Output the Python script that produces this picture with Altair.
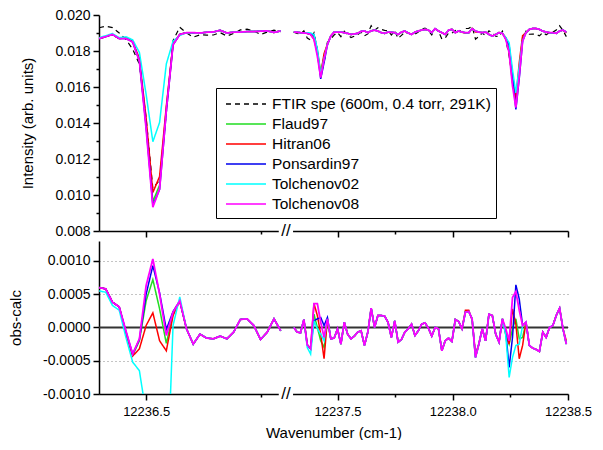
import altair as alt
import pandas as pd

FONT = "Liberation Sans"

# ---------------- data ----------------
WN_LEFT = [12236.3978, 12236.4124, 12236.4270, 12236.4416, 12236.4562, 12236.4708, 12236.4854,
           12236.5000, 12236.5146, 12236.5292, 12236.5438, 12236.5584, 12236.5730, 12236.5876,
           12236.6022, 12236.6168, 12236.6314, 12236.6460, 12236.6606, 12236.6752, 12236.6898,
           12236.7044, 12236.7190, 12236.7336, 12236.7482, 12236.7628, 12236.7774, 12236.7920]

WN_RIGHT = [12237.3102, 12237.3248, 12237.3394, 12237.3540, 12237.3686, 12237.3832, 12237.3978,
            12237.4124, 12237.4270, 12237.4416, 12237.4562, 12237.4708, 12237.4854, 12237.5000,
            12237.5146, 12237.5292, 12237.5438, 12237.5584, 12237.5730, 12237.5876, 12237.6022,
            12237.6168, 12237.6314, 12237.6460, 12237.6606, 12237.6752, 12237.6898, 12237.7044,
            12237.7190, 12237.7336, 12237.7482, 12237.7628, 12237.7774, 12237.7920, 12237.8066,
            12237.8212, 12237.8358, 12237.8504, 12237.8650, 12237.8796, 12237.8942, 12237.9088,
            12237.9234, 12237.9380, 12237.9526, 12237.9672, 12237.9818, 12237.9964, 12238.0110,
            12238.0256, 12238.0402, 12238.0548, 12238.0694, 12238.0840, 12238.0986, 12238.1132,
            12238.1278, 12238.1424, 12238.1570, 12238.1716, 12238.1862, 12238.2008, 12238.2154,
            12238.2300, 12238.2446, 12238.2592, 12238.2738, 12238.2884, 12238.3030, 12238.3176,
            12238.3322, 12238.3468, 12238.3614, 12238.3760, 12238.3906, 12238.4052, 12238.4198,
            12238.4344, 12238.4490, 12238.4636, 12238.4782, 12238.4928]

# Tolchenov08 calculated intensity (top panel)
CALC08_LEFT = [0.01869, 0.01880, 0.01892, 0.01869, 0.01869, 0.01850, 0.01744, 0.01366, 0.00933,
               0.01033, 0.01470, 0.01835, 0.01892, 0.01902, 0.01902, 0.01900, 0.01904, 0.01906,
               0.01915, 0.01900, 0.01905, 0.01905, 0.01908, 0.01908, 0.01910, 0.01912, 0.01903,
               0.01912]
CALC08_RIGHT = [0.01905, 0.01904, 0.01902, 0.01900, 0.01898, 0.01892, 0.01865, 0.01772, 0.01652, 0.01754,
                0.01837, 0.01883, 0.01905, 0.01905, 0.01905, 0.01902, 0.01898, 0.01892, 0.01895, 0.01898,
                0.01909, 0.01911, 0.01902, 0.01912, 0.01916, 0.01911, 0.01902, 0.01898, 0.01905, 0.01904,
                0.01902, 0.01892, 0.01905, 0.01911, 0.01900, 0.01892, 0.01905, 0.01911, 0.01916, 0.01920,
                0.01916, 0.01902, 0.01924, 0.01911, 0.01902, 0.01892, 0.01916, 0.01920, 0.01902, 0.01911,
                0.01905, 0.01902, 0.01902, 0.01924, 0.01911, 0.01905, 0.01902, 0.01905, 0.01892, 0.01883,
                0.01892, 0.01902, 0.01898, 0.01865, 0.01791, 0.01606, 0.01486, 0.01661, 0.01855, 0.01902,
                0.01920, 0.01925, 0.01925, 0.01920, 0.01910, 0.01905, 0.01902, 0.01902, 0.01898, 0.01911,
                0.01916, 0.01905]

# Tolchenov08 residual obs-calc (bottom panel)
RESID08_LEFT = [0.00060, 0.00058, 0.00038, 0.00031, -0.00005, -0.00040, -0.00017, 0.00063, 0.00103,
                0.00050, -0.00012, 0.00023, 0.00040, -0.00002, -0.00025, -0.00010, -0.00016, -0.00017,
                -0.00013, -0.00017, -0.00007, 0.00012, 0.00013, 0.00003, -0.00018, -0.00007, 0.00013,
                -0.00005]
RESID08_RIGHT = [0.00000, -0.00007, -0.00008, 0.00012, -0.00026, -0.00032, 0.00036, 0.00036, 0.00008, -0.00015,
                 0.00013, -0.00017, -0.00016, -0.00002, -0.00025, 0.00008, -0.00010, -0.00017, -0.00013, -0.00007,
                 -0.00005, -0.00027, -0.00007, 0.00029, 0.00000, 0.00018, 0.00018, 0.00017, 0.00008, -0.00015,
                 0.00010, -0.00022, -0.00018, -0.00007, -0.00002, 0.00005, -0.00012, -0.00005, 0.00005, 0.00007,
                 -0.00001, -0.00013, 0.00000, -0.00002, -0.00035, -0.00020, -0.00016, -0.00021, 0.00012, 0.00009,
                 -0.00002, 0.00023, 0.00024, 0.00013, -0.00045, -0.00025, -0.00002, -0.00020, 0.00020, 0.00018,
                 -0.00010, -0.00022, 0.00013, -0.00002, -0.00020, 0.00045, 0.00054, 0.00026, 0.00003, 0.00008,
                 -0.00027, -0.00031, -0.00033, -0.00036, -0.00007, -0.00015, 0.00000, 0.00003, 0.00018, 0.00029,
                 -0.00002, -0.00025]

# residuals of the other line lists where they differ from Tolchenov08
RESID_FLAUD97 = {12236.4562: -0.00008, 12236.4708: -0.00042, 12236.4854: -0.00020, 12236.5000: 0.00040,
                 12236.5146: 0.00072, 12236.5292: 0.00028, 12236.5438: -0.00024, 12236.5584: 0.00020,
                 12237.3978: 0.00020, 12237.4124: 0.00000, 12237.4270: -0.00020, 12237.4416: -0.00030,
                 12237.4562: 0.00010, 12238.2300: -0.00010, 12238.2446: -0.00025, 12238.2592: -0.00002,
                 12238.2738: 0.00013, 12238.2884: -0.00017, 12238.3030: -0.00015}
RESID_HITRAN06 = {12236.4562: -0.00010, 12236.4708: -0.00043, 12236.4854: -0.00032, 12236.5000: 0.00003,
                  12236.5146: 0.00022, 12236.5292: -0.00020, 12236.5438: -0.00035, 12236.5584: 0.00018,
                  12237.3978: 0.00036, 12237.4124: 0.00018, 12237.4270: -0.00010, 12237.4416: -0.00047,
                  12237.4562: 0.00013, 12238.0548: 0.00026, 12238.0694: 0.00026, 12238.0840: 0.00011,
                  12238.0986: -0.00040, 12238.2300: -0.00010, 12238.2446: -0.00025, 12238.2592: 0.00028,
                  12238.2738: 0.00005, 12238.2884: -0.00047, 12238.3030: -0.00027, 12238.4928: -0.00020}
RESID_PONSARDIN97 = {12236.4562: -0.00006, 12236.4708: -0.00040, 12236.4854: -0.00018, 12236.5000: 0.00050,
                     12236.5146: 0.00093, 12236.5292: 0.00052, 12236.5438: -0.00003, 12236.5584: 0.00024,
                     12237.3978: 0.00010, 12237.4124: 0.00013, 12237.4270: 0.00015, 12237.4416: 0.00003,
                     12237.4562: 0.00015, 12238.2300: -0.00007, 12238.2446: -0.00060, 12238.2592: -0.00015,
                     12238.2738: 0.00064, 12238.2884: 0.00043, 12238.3030: 0.00003}
RESID_TOLCHENOV02 = {12236.3978: 0.00055, 12236.4124: 0.00053, 12236.4270: 0.00033, 12236.4416: 0.00026,
                     12236.4562: -0.00015, 12236.4708: -0.00052, 12236.4854: -0.00065, 12236.5000: -0.00130,
                     12236.5146: -0.00260, 12236.5292: -0.00320, 12236.5438: -0.00270, 12236.5584: 0.00003,
                     12236.5730: 0.00046, 12237.3686: -0.00030, 12237.3832: -0.00040, 12237.3978: 0.00010,
                     12237.4124: -0.00002, 12237.4270: -0.00010, 12237.4416: -0.00020, 12237.4562: 0.00013,
                     12238.2300: -0.00012, 12238.2446: -0.00075, 12238.2592: -0.00045, 12238.2738: -0.00027,
                     12238.2884: -0.00025, 12238.3030: 0.00003}

SERIES = ["FTIR spe (600m, 0.4 torr, 291K)", "Flaud97", "Hitran06", "Ponsardin97",
          "Tolchenov02", "Tolchenov08"]
COLORS = ["#000000", "#22dd22", "#ff0000", "#0000ee", "#00ffff", "#ff00ff"]
DASHES = [[5, 4], [1, 0], [1, 0], [1, 0], [1, 0], [1, 0]]
WIDTHS = [1.2, 1.5, 1.5, 1.5, 1.5, 1.8]
RESID_DEV = {"Flaud97": RESID_FLAUD97, "Hitran06": RESID_HITRAN06,
             "Ponsardin97": RESID_PONSARDIN97, "Tolchenov02": RESID_TOLCHENOV02, "Tolchenov08": {}}

MAJOR_TICKS = [12236.5, 12237.5, 12238.0, 12238.5]
MINOR_TICKS = [12236.75, 12237.75, 12238.25]
Y_TOP_TICKS = [0.008, 0.009, 0.010, 0.011, 0.012, 0.013, 0.014, 0.015, 0.016, 0.017, 0.018, 0.019, 0.020]
Y_BOT_TICKS = [-0.001, -0.0005, 0.0, 0.0005, 0.001]

# ---------------- broken x axis (left part expanded x2) ----------------
LEFT_ZOOM = 2.0
LEFT_ANCHOR_WN = 12236.5
LEFT_ANCHOR_DISPLAY = 12236.6695
X_DOMAIN = [12236.465, 12238.5]
AXIS_BREAK = pd.DataFrame({"u0": [12237.245], "u1": [12237.307], "um": [12237.276]})


def to_display(wn):
    if wn < 12237.0:
        return LEFT_ANCHOR_DISPLAY + LEFT_ZOOM * (wn - LEFT_ANCHOR_WN)
    return wn


rows_top, rows_bot = [], []
for seg, wns, c08s, r08s in [("L", WN_LEFT, CALC08_LEFT, RESID08_LEFT),
                             ("R", WN_RIGHT, CALC08_RIGHT, RESID08_RIGHT)]:
    for wn, c8, r8 in zip(wns, c08s, r08s):
        u = to_display(wn)
        obs = c8 + r8
        rows_top.append({"series": SERIES[0], "seg": seg, "u": u, "value": obs})
        for name in SERIES[1:]:
            r = RESID_DEV[name].get(round(wn, 4), r8)
            rows_top.append({"series": name, "seg": seg, "u": u, "value": obs - r})
            rows_bot.append({"series": name, "seg": seg, "u": u, "resid": r})

df_top = pd.DataFrame(rows_top)
df_bot = pd.DataFrame(rows_bot)

major_disp = [to_display(v) for v in MAJOR_TICKS]
minor_disp = [to_display(v) for v in MINOR_TICKS]
tick_vals = sorted(major_disp + minor_disp)

label_expr = "''"
for d, v in zip(major_disp, MAJOR_TICKS):
    label_expr = f"abs(datum.value - {d}) < 1e-6 ? '{v:.1f}' : ({label_expr})"
minor_test = " || ".join(f"abs(datum.value - {d}) < 1e-6" for d in minor_disp)

W, H_TOP, H_BOT = 469, 216, 153

xscale = alt.Scale(domain=X_DOMAIN, nice=False, zero=False)
x_axis_top = alt.Axis(values=tick_vals, labels=False, title=None, grid=False,
                      tickSize={"condition": {"test": minor_test, "value": 3}, "value": 6})
x_axis_bot = alt.Axis(values=tick_vals, labelExpr=label_expr, title="Wavenumber (cm-1)",
                      grid=False, labelFlush=False, labelOverlap=False, titlePadding=7,
                      tickSize={"condition": {"test": minor_test, "value": 3}, "value": 6})

y_top_scale = alt.Scale(domain=[0.008, 0.020], nice=False, zero=False)
y_top_axis = alt.Axis(values=Y_TOP_TICKS, title="Intensity (arb. units)", titlePadding=19,
                      labelExpr="round(datum.value*1000) % 2 == 0 ? format(datum.value, '.3f') : ''",
                      labelOverlap=False, grid=False,
                      tickSize={"condition": {"test": "round(datum.value*1000) % 2 == 1", "value": 3},
                                "value": 6})
y_bot_scale = alt.Scale(domain=[-0.001, 0.0013], nice=False, zero=False)
y_bot_axis = alt.Axis(values=Y_BOT_TICKS, title="obs-calc", titlePadding=19,
                      labelExpr="replace(format(datum.value, '.4f'), '\u2212', '-')",
                      labelOverlap=False, grid=True, gridDash=[1, 3], gridColor="#888888",
                      gridWidth=1, tickSize=6)

color_scale = alt.Scale(domain=SERIES, range=COLORS)
dash_scale = alt.Scale(domain=SERIES, range=DASHES)
legend = alt.Legend(orient="none", legendX=117, legendY=73, title=None,
                    symbolType="M-2,0H2", symbolSize=400, symbolStrokeWidth=1.5,
                    symbolFillColor="transparent", symbolOffset=14,
                    labelFont=FONT, labelFontSize=15.5, labelColor="black",
                    strokeColor="black", fillColor="white", padding=5,
                    rowPadding=0, labelOffset=15, labelLimit=400)


def lines(df, ycol, yscale, yaxis, xaxis, names, leg):
    out = []
    for name in names:
        w = WIDTHS[SERIES.index(name)]
        out.append(
            alt.Chart(df).transform_filter(alt.datum.series == name)
            .mark_line(strokeWidth=w, clip=True)
            .encode(
                x=alt.X("u:Q", scale=xscale, axis=xaxis),
                y=alt.Y(f"{ycol}:Q", scale=yscale, axis=yaxis),
                color=alt.Color("series:N", scale=color_scale, legend=leg),
                strokeDash=alt.StrokeDash("series:N", scale=dash_scale, legend=leg),
                detail="seg:N",
            )
        )
    return out


def break_marks(xaxis, h):
    gap = alt.Chart(AXIS_BREAK).mark_rect(color="white").encode(
        x=alt.X("u0:Q", scale=xscale, axis=xaxis), x2="u1:Q",
        y=alt.value(h - 4), y2=alt.value(h + 4))
    sl = alt.Chart(AXIS_BREAK).mark_text(text="//", font=FONT, fontSize=17, color="black",
                                         baseline="middle", align="center").encode(
        x=alt.X("um:Q", scale=xscale, axis=xaxis), y=alt.value(h))
    return [gap, sl]


top = alt.layer(
    *lines(df_top, "value", y_top_scale, y_top_axis, x_axis_top, SERIES, legend),
    *break_marks(x_axis_top, H_TOP),
).properties(width=W, height=H_TOP)

zero_rule = alt.Chart(pd.DataFrame({"resid": [0.0]})).mark_rule(color="#333333", strokeWidth=2).encode(
    y=alt.Y("resid:Q", scale=y_bot_scale, axis=y_bot_axis))

bottom = alt.layer(
    zero_rule,
    *lines(df_bot, "resid", y_bot_scale, y_bot_axis, x_axis_bot, SERIES[1:], None),
    *break_marks(x_axis_bot, H_BOT),
).properties(width=W, height=H_BOT)

chart = (
    alt.vconcat(top, bottom, spacing=10, bounds="flush")
    .resolve_scale(color="independent", strokeDash="independent")
    .properties(padding={"left": 0, "top": 0, "right": 0, "bottom": 0})
    .configure_view(stroke=None)
    .configure_axis(labelFont=FONT, titleFont=FONT, labelFontSize=14, titleFontSize=15,
                    titleFontWeight="normal", labelColor="black", titleColor="black",
                    domainColor="black", domainWidth=1.5, tickColor="black", tickWidth=1.5,
                    labelPadding=3)
    .configure_axisX(labelFontSize=13, labelPadding=5)
)

chart.save("out.html", embed_options={"renderer": "svg", "actions": False})
